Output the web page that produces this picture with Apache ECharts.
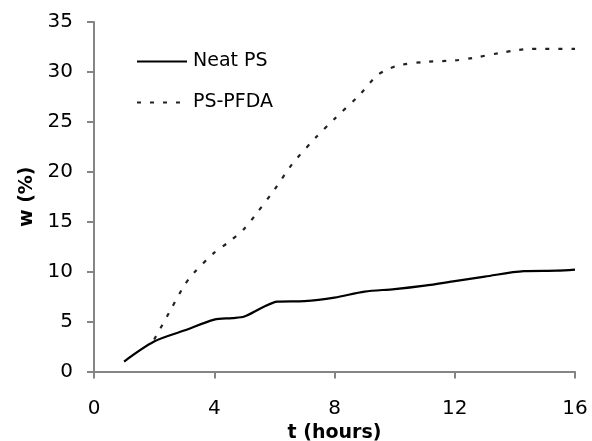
<!DOCTYPE html>
<html><head><meta charset="utf-8">
<script src="https://cdn.jsdelivr.net/npm/echarts@6/dist/echarts.min.js"></script>
<style>html,body{margin:0;padding:0;background:#fff}#c{width:592px;height:441px}</style>
</head><body><div id="c"></div>
<script>
const neatT = [1, 2, 3, 4, 4.6, 5, 5.6, 6.1, 7, 8, 9, 10, 11, 12, 13, 14.3, 15.4, 16];
const neatW = [1.0, 3.0, 4.1, 5.2, 5.35, 5.5, 6.4, 7.0, 7.05, 7.4, 8.0, 8.25, 8.6, 9.05, 9.5, 10.05, 10.1, 10.2];
const pfdaT = [2, 2.5, 3, 3.3, 4, 4.5, 5, 5.4, 6, 6.6, 7.4, 8, 8.8, 9.4, 9.8, 10.2, 11, 12, 12.6, 13.5, 14.1, 14.5, 16];
const pfdaW = [3.2, 5.9, 8.6, 9.8, 11.9, 13.0, 14.3, 15.8, 18.2, 20.8, 23.5, 25.3, 27.6, 29.6, 30.3, 30.7, 31.0, 31.15, 31.4, 31.9, 32.2, 32.3, 32.3];
const seriesNames = ['Neat PS', 'PS-PFDA'];
const xTicks = [0, 4, 8, 12, 16];
const yTicks = [0, 5, 10, 15, 20, 25, 30, 35];

const zip = (a, b) => a.map((v, i) => [v, b[i]]);
const font = 'DejaVu Sans, Liberation Sans, Arial, sans-serif';
const axisCol = '#858585';
const chart = echarts.init(document.getElementById('c'), null, {renderer: 'canvas'});
chart.setOption({
  animation: false,
  backgroundColor: '#fff',
  grid: {left: 94, right: 17, top: 22, bottom: 69.5, containLabel: false, outerBoundsMode: 'none'},
  legend: {
    orient: 'vertical', left: 136, top: 52, padding: 0, itemGap: 22, itemWidth: 50, itemHeight: 20,
    itemStyle: {opacity: 0},
    textStyle: {fontFamily: font, fontSize: 19, color: '#000', padding: [0, 0, 0, 1]},
    data: seriesNames
  },
  xAxis: {
    type: 'value', min: xTicks[0], max: xTicks[xTicks.length - 1], interval: 4,
    name: 't (hours)', nameLocation: 'middle', nameGap: 42,
    nameTextStyle: {fontFamily: font, fontSize: 19, fontWeight: 'bold', color: '#000'},
    axisLine: {lineStyle: {color: axisCol, width: 2}},
    axisTick: {show: true, length: 7, lineStyle: {color: axisCol, width: 2}},
    axisLabel: {fontFamily: font, fontSize: 20, color: '#000', margin: 27},
    splitLine: {show: false}
  },
  yAxis: {
    type: 'value', min: yTicks[0], max: yTicks[yTicks.length - 1], interval: 5,
    name: 'w (%)', nameLocation: 'middle', nameGap: 56, nameRotate: 90,
    nameTextStyle: {fontFamily: font, fontSize: 19, fontWeight: 'bold', color: '#000'},
    axisLine: {show: true, lineStyle: {color: axisCol, width: 2}},
    axisTick: {show: true, length: 7, lineStyle: {color: axisCol, width: 2}},
    axisLabel: {fontFamily: font, fontSize: 20, color: '#000', margin: 21},
    splitLine: {show: false}
  },
  series: [
    {name: seriesNames[0], type: 'line', data: zip(neatT, neatW), smooth: 0.3, symbol: 'none',
     lineStyle: {color: '#000', width: 2.2, type: 'solid'}, itemStyle: {color: '#000'}},
    {name: seriesNames[1], type: 'line', data: zip(pfdaT, pfdaW), smooth: 0.3, symbol: 'none',
     lineStyle: {color: '#222', width: 2.2, type: [4, 9]}, itemStyle: {color: '#222'}}
  ]
});
</script></body></html>
